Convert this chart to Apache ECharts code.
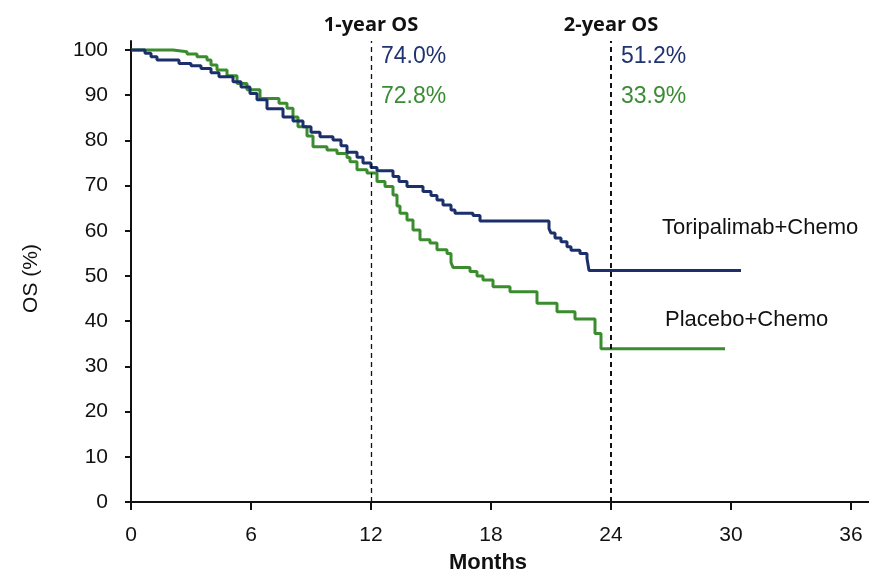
<!DOCTYPE html>
<html><head><meta charset="utf-8">
<script src="https://cdn.jsdelivr.net/npm/echarts@6/dist/echarts.min.js"></script>
<style>html,body{margin:0;padding:0;background:#fff}#c{width:869px;height:574px}</style>
</head><body><div id="c"></div>
<script>
// ---- data ----
const xTicks = [0, 6, 12, 18, 24, 30, 36];
const yTicks = [0, 10, 20, 30, 40, 50, 60, 70, 80, 90, 100];
const toriName = 'Toripalimab+Chemo';
const placName = 'Placebo+Chemo';
const toriData = [[0,100],[0.7,99.3],[1.0,98.5],[1.3,97.8],[2.4,97.0],[3.0,96.5],[3.5,95.9],[4.0,95.0],[4.4,94.1],[5.1,93.0],[5.5,91.8],[5.95,90.4],[6.3,89.0],[6.8,87.0],[7.6,85.2],[8.1,84.3],[8.6,83.0],[9.0,81.8],[9.45,80.8],[10.1,80.1],[10.5,78.8],[10.8,77.4],[11.3,76.3],[11.6,75.0],[12.0,74.0],[12.3,73.3],[13.1,72.0],[13.4,70.9],[13.8,69.8],[14.6,68.7],[15.0,67.8],[15.3,66.8],[15.6,65.7],[16.0,64.6],[16.2,63.9],[17.1,63.4],[17.45,62.2],[20.9,60.5],[21.0,59.5],[21.2,58.4],[21.5,57.6],[21.8,56.5],[22.0,55.7],[22.45,55.0],[22.8,53.9],[22.9,51.2],[30.5,51.2]];
const placData = [[0,100],[2.1,99.6],[2.8,99.1],[3.3,98.5],[3.8,97.8],[4.0,96.7],[4.3,95.6],[4.8,94.3],[5.3,92.6],[5.8,91.2],[6.45,89.3],[7.4,88.2],[7.8,87.1],[8.1,85.2],[8.35,83.0],[8.8,81.0],[9.1,78.6],[9.8,77.9],[10.3,77.1],[10.8,76.2],[10.95,75.3],[11.3,73.5],[11.8,72.8],[12.3,70.9],[12.7,69.8],[13.1,67.9],[13.3,65.5],[13.45,63.9],[13.8,62.4],[14.1,60.2],[14.45,58.0],[14.95,57.3],[15.3,55.8],[15.8,55.0],[16.0,53.0],[16.1,51.9],[16.95,51.0],[17.3,50.0],[17.6,49.1],[18.1,47.6],[18.95,46.5],[20.3,44.0],[21.3,42.1],[22.2,40.5],[23.2,37.3],[23.5,33.9],[29.7,33.9]];
const landmarkX = [12, 24];
const landmarkLabels = ['1-year OS', '2-year OS'];
const rateX = [12.5, 24.5];
const toriRates = ['74.0%', '51.2%'];
const placRates = ['72.8%', '33.9%'];
const toriRateY = 98.5, placRateY = 89.6;
const seriesLabelPos = [[26.55, 60.6], [26.7, 40.3]];

// ---- styles ----
const NAVY = '#1b2f6b', GREEN = '#3a8c2e';
const FONT = '"Liberation Sans", Arial, sans-serif';

const annot = [];
rateX.forEach((x, i) => {
  annot.push({value: [x, toriRateY], label: {formatter: toriRates[i], color: '#1f3370'}});
  annot.push({value: [x, placRateY], label: {formatter: placRates[i], color: '#3b8b34'}});
});
annot.push({value: seriesLabelPos[0], label: {formatter: toriName, color: '#111', fontSize: 22}});
annot.push({value: seriesLabelPos[1], label: {formatter: placName, color: '#111', fontSize: 22}});

const chart = echarts.init(document.getElementById('c'));
chart.setOption({
  animation: false,
  backgroundColor: '#fff',
  grid: {left: 131, right: 0, top: 41, bottom: 72, containLabel: false, outerBoundsMode: 'none'},
  xAxis: {
    type: 'value', min: 0, max: 36.9,
    name: 'Months', nameLocation: 'middle', nameGap: 50,
    nameTextStyle: {fontFamily: FONT, fontWeight: 'bold', fontSize: 22, color: '#111', padding: [0, 24, 0, 0]},
    axisLine: {lineStyle: {color: '#111', width: 2}},
    axisTick: {show: true, length: 8, lineStyle: {color: '#111', width: 2}, customValues: xTicks},
    axisLabel: {fontFamily: FONT, fontSize: 21, color: '#111', margin: 23, customValues: xTicks},
    splitLine: {show: false}
  },
  yAxis: {
    type: 'value', min: 0, max: 102,
    name: 'OS (%)', nameLocation: 'middle', nameGap: 89, nameRotate: 90,
    nameTextStyle: {fontFamily: FONT, fontSize: 21, color: '#111', padding: [0, 14, 0, 0]},
    axisLine: {show: true, lineStyle: {color: '#111', width: 2}},
    axisTick: {show: true, length: 6, lineStyle: {color: '#111', width: 2}, customValues: yTicks},
    axisLabel: {fontFamily: FONT, fontSize: 21, color: '#111', margin: 23, customValues: yTicks},
    splitLine: {show: false}
  },
  series: [
    {
      name: placName, type: 'line', step: 'end', data: placData, showSymbol: false,
      lineStyle: {color: GREEN, width: 3}, z: 3
    },
    {
      name: toriName, type: 'line', step: 'end', data: toriData, showSymbol: false,
      lineStyle: {color: NAVY, width: 3}, z: 4,
      markLine: {
        silent: true, symbol: 'none',
        data: landmarkX.map((x, i) => ({
          xAxis: x,
          lineStyle: {type: [5, 4], color: '#111', width: i === 0 ? 1.3 : 2},
          label: {show: true, position: 'end', formatter: landmarkLabels[i], distance: 6,
                  fontFamily: '"Open Sans", sans-serif', fontWeight: 'bold', fontSize: 20, color: '#111'}
        }))
      }
    },
    {
      type: 'scatter', symbolSize: 0, data: annot, silent: true, z: 5,
      itemStyle: {opacity: 1},
      label: {show: true, position: 'right', distance: 0, fontFamily: FONT, fontSize: 23, opacity: 1}
    }
  ]
});
</script></body></html>
